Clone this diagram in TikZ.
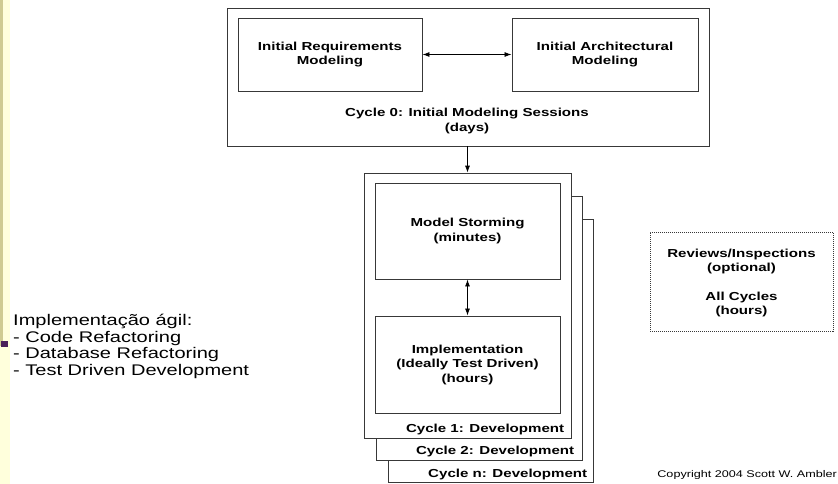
\documentclass[tikz,border=0pt]{standalone}
\usepackage{fontspec}
\setmainfont[FakeStretch=1.3]{Liberation Sans}
\usetikzlibrary{arrows.meta}
\definecolor{stripdark}{HTML}{CFCB92}
\definecolor{striplight}{HTML}{FFFFDC}
\definecolor{stripmark}{HTML}{4A2058}
\definecolor{boxline}{HTML}{383838}
\tikzset{
  lbl/.style={font=\bfseries\fontsize{11.6}{14.5}\selectfont, align=center, inner sep=0pt},
  panel/.style={draw=boxline, line width=0.75pt, fill=white, inner sep=0pt},
  inbox/.style={draw=boxline, line width=0.95pt, fill=white, inner sep=0pt},
  link/.style={line width=0.8pt, draw=black, {Latex[length=7pt,width=5pt]}-{Latex[length=7pt,width=5pt]}},
  flow/.style={line width=0.8pt, draw=black, -{Latex[length=7pt,width=5pt]}},
}
\begin{document}
\begin{tikzpicture}[x=1pt, y=-1pt]
  \useasboundingbox (0,0) rectangle (838,484);
  % slide margin strip
  \fill[striplight] (0,0) rectangle (10,484);
  \fill[stripdark] (0,0) rectangle (3,346);
  \fill[stripmark] (1,341) rectangle (8,347);

  % cycle 0
  \node[panel, minimum width=482pt, minimum height=138pt] (cyc0) at (468,77) {};
  \node[inbox, minimum width=184pt, minimum height=73pt] (req) at (330,54.5) {};
  \node[lbl] at (req) {Initial Requirements\\Modeling};
  \node[inbox, minimum width=186pt, minimum height=73pt] (arch) at (605,54.5) {};
  \node[lbl] at (arch) {Initial Architectural\\Modeling};
  \node[lbl] (cyc0lbl) at (467,121) {Cycle 0: Initial Modeling Sessions\\(days)};
  \draw[link] (req.east) -- (arch.west);

  % development cycles, back to front
  \node[panel, minimum width=205pt, minimum height=263pt] (devn) at (490.5,351) {};
  \node[lbl, anchor=south east] (devnlbl) at ([shift={(-6,-3)}]devn.south east) {Cycle n: Development};
  \node[panel, minimum width=206pt, minimum height=264pt] (dev2) at (479,328) {};
  \node[lbl, anchor=south east] (dev2lbl) at ([shift={(-8,-3)}]dev2.south east) {Cycle 2: Development};
  \node[panel, minimum width=207pt, minimum height=265pt] (dev1) at (467.5,305.5) {};
  \node[lbl, anchor=south east] (dev1lbl) at ([shift={(-7,-3)}]dev1.south east) {Cycle 1: Development};

  \node[inbox, minimum width=185pt, minimum height=96pt] (ms) at (467.5,231) {};
  \node[lbl] at (ms) {Model Storming\\(minutes)};
  \node[inbox, minimum width=185pt, minimum height=97pt] (impl) at (467.5,364.5) {};
  \node[lbl] at (impl) {Implementation\\(Ideally Test Driven)\\(hours)};
  \draw[link] (ms.south) -- (impl.north);
  \draw[flow] (cyc0.south -| dev1.north) -- (dev1.north);

  % reviews
  \node[draw=boxline, line width=0.9pt, dash pattern=on 1pt off 1pt, minimum width=183pt, minimum height=99pt, inner sep=0pt] (rev) at (741.5,281.5) {};
  \node[lbl] at (741.5,283) {Reviews/Inspections\\(optional)\\[14pt]All Cycles\\(hours)};

  % notes
  \node[anchor=north west, align=left, inner sep=0pt, font=\fontsize{15.4}{16.5}\selectfont] (agil) at (13,314)
    {Implementação ágil:\\- Code Refactoring\\- Database Refactoring\\- Test Driven Development};
  \node[anchor=east, inner sep=0pt, font=\fontsize{9.7}{11}\selectfont] (copy) at (837,475) {Copyright 2004 Scott W. Ambler};
\end{tikzpicture}
\end{document}
